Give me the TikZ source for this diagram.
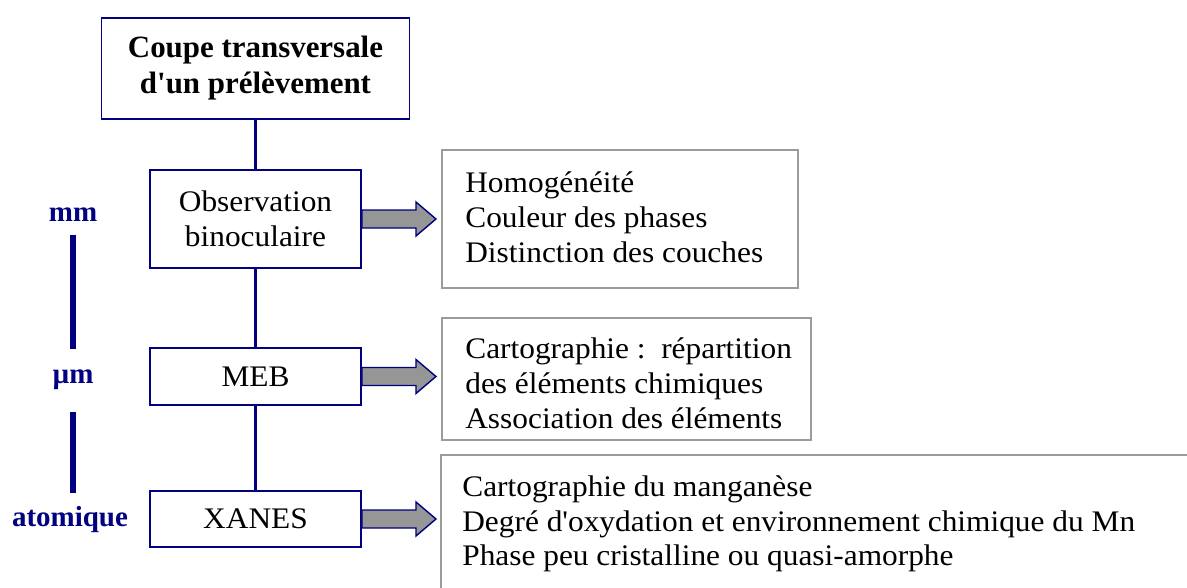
\documentclass[tikz,border=0pt]{standalone}
\usepackage{fontspec}
\setmainfont{Liberation Serif}[Ligatures=TeXOff]
\newfontfamily\bodyfont{Liberation Serif}[Ligatures=TeXOff,FakeStretch=1.05]
\definecolor{navy}{RGB}{0,0,128}
\definecolor{boxgray}{RGB}{155,155,155}
\definecolor{arrowgray}{RGB}{150,150,150}
\begin{document}
\begin{tikzpicture}[x=0.02cm,y=-0.02cm,
  mainbox/.style={draw=navy,line width=1.1pt,fill=white,align=center,inner sep=0pt,font=\bodyfont\fontsize{17}{20}\selectfont},
  infobox/.style={draw=boxgray,line width=1.1pt,inner sep=0pt},
  infotext/.style={align=left,anchor=west,inner sep=0pt,font=\bodyfont\fontsize{17}{19.8}\selectfont},
  link/.style={draw=navy,line width=1.7pt},
  scalebar/.style={draw=navy,line width=3.4pt},
  scalelabel/.style={text=navy,font=\bfseries\fontsize{16.5}{18}\selectfont,inner sep=0pt},
  fatarrow/.style={draw=navy,line width=0.8pt,fill=arrowgray,line join=miter}]
\useasboundingbox (0,0) rectangle (1187,588);
\clip (0,0) rectangle (1187,588);
% main column
\node[mainbox,minimum width=308*0.02cm,minimum height=101*0.02cm,font=\bfseries\fontsize{17.6}{20.5}\selectfont] (top) at (255.5,68.5) {Coupe transversale\\d'un prélèvement};
\node[mainbox,minimum width=211*0.02cm,minimum height=98*0.02cm] (obs) at (255.5,219) {Observation\\binoculaire};
\node[mainbox,minimum width=211*0.02cm,minimum height=57*0.02cm] (meb) at (255.5,376.5) {MEB};
\node[mainbox,minimum width=211*0.02cm,minimum height=56*0.02cm] (xanes) at (255.5,519) {XANES};
\draw[link] (top.south) -- (obs.north);
\draw[link] (obs.south) -- (meb.north);
\draw[link] (meb.south) -- (xanes.north);
% info boxes
\node[infobox,minimum width=356*0.02cm,minimum height=138*0.02cm] (info1) at (620,219) {};
\node[infotext] (t1) at (465,217) {Homogénéité\\Couleur des phases\\Distinction des couches};
\node[infobox,minimum width=369*0.02cm,minimum height=122*0.02cm] (info2) at (626.5,379) {};
\node[infotext] (t2) at (465,383) {Cartographie :~~répartition\\des éléments chimiques\\Association des éléments};
\node[infobox,minimum width=760*0.02cm,minimum height=150*0.02cm] (info3) at (821,530) {};
\node[infotext] (t3) at (462,524) {Cartographie du manganèse\\Degré d'oxydation et environnement chimique du Mn\\Phase peu cristalline ou quasi-amorphe};
% fat arrows
\draw[fatarrow] (obs.east) ++(0,-9) -- ++(54,0) -- ++(0,-8) -- ++(20,17) -- ++(-20,17) -- ++(0,-8) -- ++(-54,0) -- cycle;
\draw[fatarrow] (meb.east) ++(0,-9) -- ++(54,0) -- ++(0,-8) -- ++(20,17) -- ++(-20,17) -- ++(0,-8) -- ++(-54,0) -- cycle;
\draw[fatarrow] (xanes.east) ++(0,-9) -- ++(54,0) -- ++(0,-8) -- ++(20,17) -- ++(-20,17) -- ++(0,-8) -- ++(-54,0) -- cycle;
% scale labels
\node[scalelabel] (mm) at (73,215) {mm};
\node[scalelabel] (um) at (73,380) {µm};
\node[scalelabel] (at) at (70,520) {atomique};
\draw[scalebar,shorten <=0.4cm,shorten >=0.62cm] (mm.center) -- (um.center);
\draw[scalebar,shorten <=0.64cm,shorten >=0.54cm] (um.center) -- (73,520);
\end{tikzpicture}
\end{document}
